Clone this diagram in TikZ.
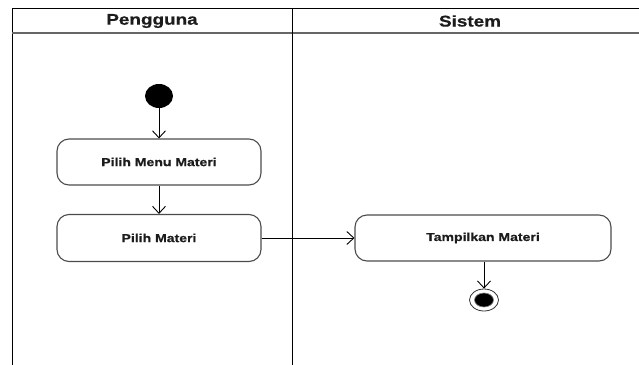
\documentclass[tikz,border=0pt]{standalone}
\usepackage{fontspec}
\setmainfont{Liberation Sans}
\newfontfamily\wfont{Liberation Sans Bold}[FakeStretch=1.22, FakeBold=0.6]
\usetikzlibrary{shapes.geometric,arrows.meta}
\definecolor{txt}{HTML}{1C1C1C}
\tikzset{
  actbox/.style={draw=black!70, line width=1.1pt, rounded corners=12pt, fill=white,
    minimum width=#1, minimum height=46pt, inner sep=0pt,
    font=\wfont\fontsize{11.5}{13}\selectfont, text=txt},
  flow/.style={draw=black, line width=0.9pt, -{Straight Barb[length=7pt,width=13pt,line width=0.9pt]}},
  lanehead/.style={font=\wfont\fontsize{15.5}{18}\selectfont, text=txt},
}
\begin{document}
\begin{tikzpicture}[x=1pt,y=-1pt]
\useasboundingbox (0,0) rectangle (639,364);
\clip (0,0) rectangle (639,364);
% swimlane frame
\draw[black, line width=1pt] (12,370) -- (12,8) -- (660,8);
\draw[black!60, line width=2pt] (12,33) -- (660,33);
\draw[black, line width=1pt] (292,8) -- (292,370);
\node[lanehead] (h1) at (152,21) {Pengguna};
\node[lanehead] (h2) at (470,21) {Sistem};
% nodes
\node[ellipse, fill=black, minimum width=28pt, minimum height=24pt, inner sep=0pt] (start) at (159,96) {};
\node[actbox=204pt] (b1) at (159,162) {Pilih Menu Materi};
\node[actbox=204pt, minimum height=47pt] (b2) at (159,238) {Pilih Materi};
\node[actbox=256pt] (b3) at (483,238) {Tampilkan Materi};
\node[ellipse, draw=black!80, line width=0.8pt, fill=white, minimum width=29pt, minimum height=22pt, inner sep=0pt] (end) at (484,300) {};
\node[ellipse, draw=black!50, line width=0.6pt, fill=black, minimum width=19pt, minimum height=14pt, inner sep=0pt] (endin) at (484,300) {};
% connectors
\draw[flow] (start) -- (b1);
\draw[flow] (b1) -- (b2);
\draw[flow] (b2) -- (b3);
\draw[flow] (b3.south -| end) -- (end);
\end{tikzpicture}
\end{document}
